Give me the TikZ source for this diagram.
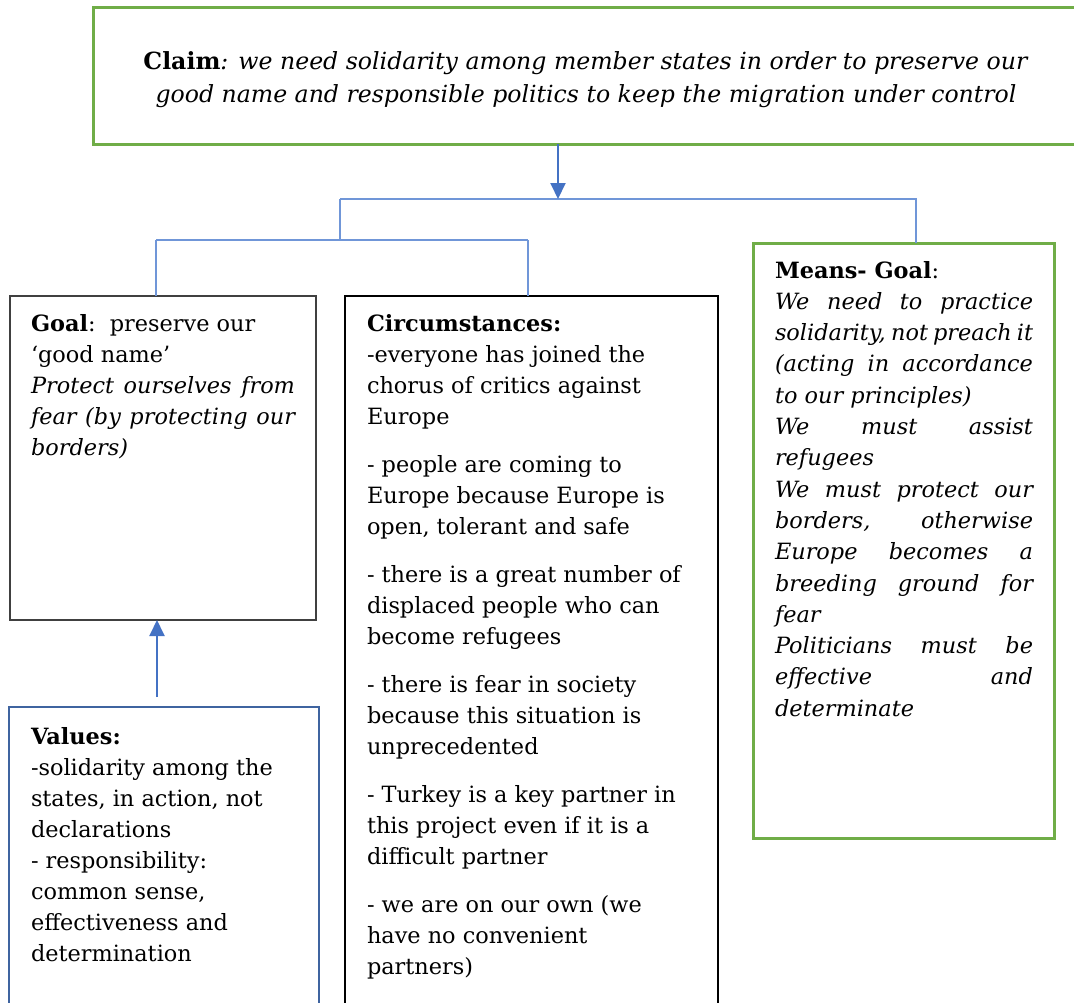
\documentclass[tikz,border=0pt]{standalone}
\usepackage{fontspec}
\setmainfont{DejaVu Serif}
\usetikzlibrary{arrows.meta}
\definecolor{boxgreen}{HTML}{70AD47}
\definecolor{linkblue}{HTML}{4472C4}
\definecolor{lightblue}{HTML}{7096D8}
\definecolor{valblue}{HTML}{3F64A0}
\definecolor{goalgray}{HTML}{404040}
\newcommand{\bodyfont}{\fontsize{22.4}{31}\selectfont}
\newcommand{\meansfont}{\fontsize{22.4}{31.3}\selectfont}
\newcommand{\claimfont}{\fontsize{23.6}{33}\selectfont}
\newcommand{\jline}[1]{\makebox[\linewidth][s]{#1}\\}
\newcommand{\pgap}{\par\vspace{17pt}}
\tikzset{
  boxnode/.style={draw, inner sep=0pt, outer sep=0pt, anchor=north west, rectangle},
  txt/.style={inner sep=0pt, outer sep=0pt, anchor=base west},
  link/.style={draw=lightblue, line width=1.1pt},
  uparrow/.style={draw=linkblue, line width=2pt, -{Triangle[length=16pt,width=15pt]}},
}
\begin{document}
\begin{tikzpicture}[x=1pt,y=-1pt]
\useasboundingbox (0,0) rectangle (1074,1002);
% boxes
\node[boxnode, draw=boxgreen, line width=3pt, minimum width=990pt, minimum height=137pt] (claim) at (93,7) {};
\node[boxnode, draw=goalgray, line width=1.5pt, minimum width=306pt, minimum height=324pt] (goal) at (10,296) {};
\node[boxnode, draw=black, line width=2.8pt, minimum width=373pt, minimum height=720pt] (circ) at (345,296) {};
\node[boxnode, draw=valblue, line width=2.2pt, minimum width=310pt, minimum height=310pt] (values) at (9,707) {};
\node[boxnode, draw=boxgreen, line width=3pt, minimum width=301pt, minimum height=595pt] (means) at (753,243) {};
% texts
\node[txt, anchor=base] (claimtxt) at (586,69) {\parbox[t]{1000pt}{\centering\claimfont
  \textbf{Claim}\textit{: we need solidarity among member states in order to preserve our}\\
  \textit{good name and responsible politics to keep the migration under control}}};
\node[txt] (goaltxt) at (31,331) {\parbox[t]{264pt}{\bodyfont
  \textbf{Goal}:\ \ preserve our\\
  ‘good name’\\
  \itshape
  \jline{Protect ourselves from}
  \jline{fear (by protecting our}
  borders)}};
\node[txt] (circtxt) at (367,331) {\parbox[t]{340pt}{\bodyfont
  \textbf{Circumstances:}\\
  -everyone has joined the\\
  chorus of critics against\\
  Europe\pgap
  - people are coming to\\
  Europe because Europe is\\
  open, tolerant and safe\pgap
  - there is a great number of\\
  displaced people who can\\
  become refugees\pgap
  - there is fear in society\\
  because this situation is\\
  unprecedented\pgap
  - Turkey is a key partner in\\
  this project even if it is a\\
  difficult partner\pgap
  - we are on our own (we\\
  have no convenient\\
  partners)}};
\node[txt] (valtxt) at (31,744) {\parbox[t]{280pt}{\bodyfont
  \textbf{Values:}\\
  -solidarity among the\\
  states, in action, not\\
  declarations\\
  - responsibility:\\
  common sense,\\
  effectiveness and\\
  determination}};
\node[txt] (meanstxt) at (775,278) {\parbox[t]{258pt}{\meansfont
  \textbf{Means- Goal}:\\
  \itshape
  \jline{We need to practice}
  \jline{solidarity, not preach it}
  \jline{(acting in accordance}
  to our principles)\\
  \jline{We must assist}
  refugees\\
  \jline{We must protect our}
  \jline{borders, otherwise}
  \jline{Europe becomes a}
  \jline{breeding ground for}
  fear\\
  \jline{Politicians must be}
  \jline{effective and}
  determinate}};
% connectors
\coordinate (jclaim) at (558,199);
\coordinate (jleft) at (340,199);
\coordinate (jright) at (916,199);
\coordinate (jmid) at (340,240);
\coordinate (jgoal) at (156,240);
\coordinate (jcirc) at (528,240);
\coordinate (jval) at (157,697);
\draw[link] (jleft) -- (jright) -- (means.north -| jright);
\draw[link] (jleft) -- (jmid);
\draw[link] (jgoal) -- (jcirc);
\draw[link] (jgoal) -- (goal.north -| jgoal);
\draw[link] (jcirc) -- (circ.north -| jcirc);
\draw[uparrow] (claim.south -| jclaim) -- (jclaim);
\draw[uparrow] (jval) -- (goal.south -| jval);
\end{tikzpicture}
\end{document}
